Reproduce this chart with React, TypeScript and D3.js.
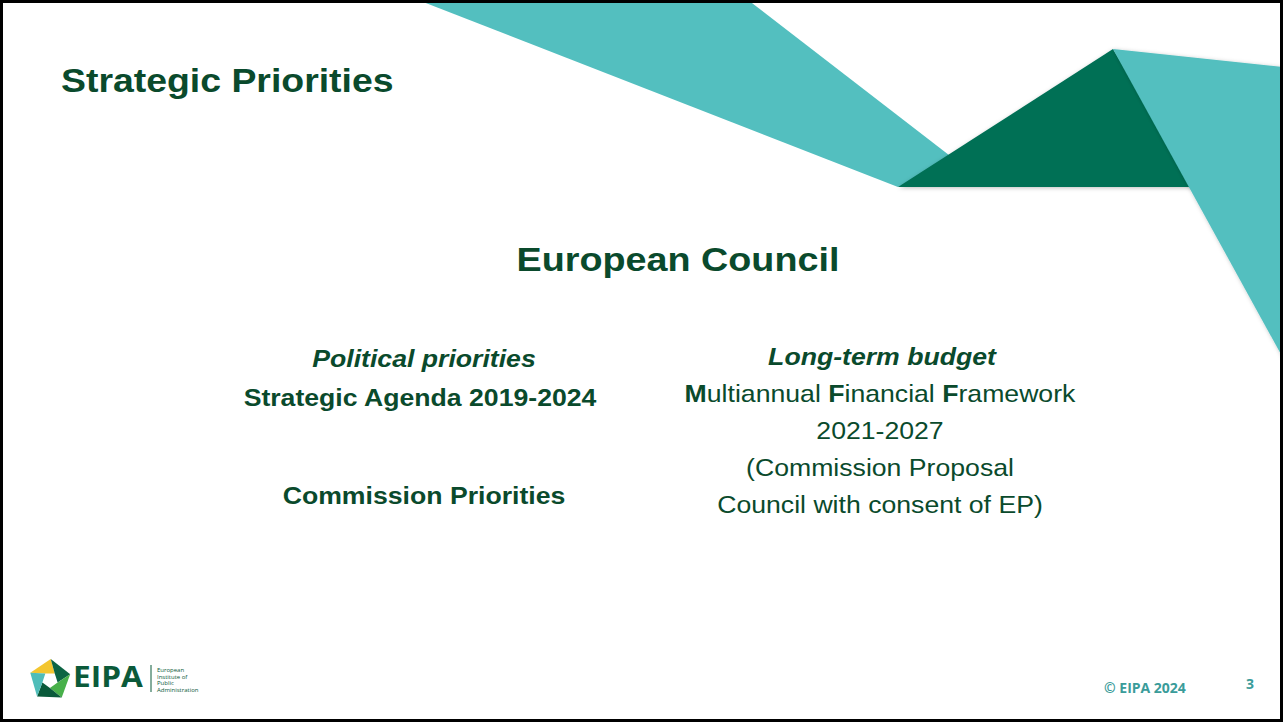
import { useEffect, useRef } from 'react';
import * as d3 from 'd3';

const W = 1283;
const H = 722;

const DARK = '#0a4a2c';
const TEAL = '#53bfbf';
const FOREST = '#026f55';
const FOOT = '#3a9c9a';
const FONT = '"Liberation Sans", Arial, sans-serif';
const OPEN = '"Open Sans", sans-serif';
// the slide was widened a little, so text is stretched horizontally
const SX = 1.11;

const title = 'Strategic Priorities';
const heading = 'European Council';

// left column: [text, italic, centre x, baseline]
const leftLines: [string, boolean, number, number][] = [
  ['Political priorities', true, 424, 367],
  ['Strategic Agenda 2019-2024', false, 420, 406],
  ['Commission Priorities', false, 424, 504],
];

// right column lines, each as runs of [text, bold]
const rightLines: [string, boolean][][] = [
  [['M', true], ['ultiannual ', false], ['F', true], ['inancial ', false], ['F', true], ['ramework', false]],
  [['2021-2027', false]],
  [['(Commission Proposal', false]],
  [['Council with consent of EP)', false]],
];
const rightHeading = 'Long-term budget';

// decorative band shapes (slide coordinates)
const bandLeft: [number, number][] = [[418, 0], [748, 0], [958, 162], [898, 187]];
const bandDark: [number, number][] = [[898, 187], [1113, 49], [1195, 187]];
const bandRight: [number, number][] = [[1113, 49], [1283, 67], [1283, 358]];

const logoColors = ['#f3c62f', '#0c6443', '#48b04a', '#0a5a3b', '#4fbdb9'];
const logoSmall = ['European', 'Institute of', 'Public', 'Administration'];

export default function App() {
  const ref = useRef<SVGSVGElement>(null);

  useEffect(() => {
    document.body.style.margin = '0';
    const svg = d3.select(ref.current!);
    svg.selectAll('*').remove();

    svg.append('rect').attr('width', W).attr('height', H).attr('fill', '#fff');

    const line = d3.line<[number, number]>().curve(d3.curveLinearClosed);
    const defs = svg.append('defs');
    const f = defs.append('filter').attr('id', 'sh').attr('x', '-10%').attr('y', '-10%').attr('width', '120%').attr('height', '130%');
    f.append('feDropShadow').attr('dx', 1).attr('dy', 1).attr('stdDeviation', 2).attr('flood-color', '#000').attr('flood-opacity', 0.25);

    svg.append('path').attr('d', line(bandLeft)).attr('fill', TEAL);
    svg.append('path').attr('d', line(bandDark)).attr('fill', FOREST).attr('filter', 'url(#sh)');
    svg.append('path').attr('d', line(bandRight)).attr('fill', TEAL).attr('filter', 'url(#sh)');

    const txt = (x: number, y: number, sx: number, anchor: string) =>
      svg.append('g').attr('transform', `translate(${x},${y}) scale(${sx},1)`)
        .append('text').attr('text-anchor', anchor).attr('font-family', FONT).attr('fill', DARK);

    txt(61, 92, 1.1, 'start').attr('font-weight', 'bold').attr('font-size', 34).text(title);
    txt(678, 271, SX, 'middle').attr('font-weight', 'bold').attr('font-size', 34).text(heading);

    leftLines.forEach(([t, it, x, y]) => {
      txt(x, y, SX, 'middle').attr('font-weight', 'bold').attr('font-size', 24)
        .attr('font-style', it ? 'italic' : 'normal').text(t);
    });

    txt(882, 365, SX, 'middle').attr('font-weight', 'bold').attr('font-style', 'italic')
      .attr('font-size', 24).text(rightHeading);

    const y = d3.scaleLinear().domain([0, 1]).range([402, 439]);
    rightLines.forEach((runs, i) => {
      const t = txt(880, y(i), SX, 'middle').attr('font-size', 24);
      runs.forEach(([s, b]) => t.append('tspan').attr('font-weight', b ? 'bold' : 'normal').text(s));
    });

    // footer
    txt(1104, 693, 1.0, 'start').attr('font-family', OPEN).attr('font-weight', 'bold')
      .attr('font-size', 14).attr('fill', FOOT).text('© EIPA 2024');
    txt(1250, 689, 1.0, 'middle').attr('font-family', OPEN).attr('font-weight', 'bold')
      .attr('font-size', 14).attr('fill', FOOT).text('3');

    // logo
    const cx = 50, cy = 680, ro = 21, ri = 8;
    const ang = (k: number) => (-160 * Math.PI) / 180 + (k * 2 * Math.PI) / 5;
    const outer = d3.range(5).map(k => [cx + ro * Math.cos(ang(k)), cy + ro * Math.sin(ang(k))] as [number, number]);
    const inner = d3.range(5).map(k => [cx + ri * Math.cos(ang(k) + 0.6), cy + ri * Math.sin(ang(k) + 0.6)] as [number, number]);
    d3.range(5).forEach(k => {
      const k2 = (k + 1) % 5;
      svg.append('path')
        .attr('d', line([outer[k], outer[k2], inner[k2], inner[k]]))
        .attr('fill', logoColors[k]);
    });
    txt(73, 687, 1.09, 'start').attr('font-family', OPEN).attr('font-weight', 'bold')
      .attr('font-size', 29).attr('fill', '#0b5a3a').text('EIPA');
    svg.append('line').attr('x1', 151).attr('x2', 151).attr('y1', 665).attr('y2', 692)
      .attr('stroke', '#0b5a3a').attr('stroke-width', 1);
    logoSmall.forEach((s, i) => {
      svg.append('text').attr('x', 157).attr('y', 672 + i * 6.5)
        .attr('font-family', OPEN).attr('font-size', 6)
        .attr('fill', '#0b5a3a').text(s);
    });

    // frame
    svg.append('rect').attr('x', 1.5).attr('y', 1.5).attr('width', W - 3).attr('height', H - 3)
      .attr('fill', 'none').attr('stroke', '#000').attr('stroke-width', 3);
  }, []);

  return (
    <div style={{ position: 'fixed', left: 0, top: 0 }}>
      <svg ref={ref} width={W} height={H} style={{ display: 'block' }} />
    </div>
  );
}
